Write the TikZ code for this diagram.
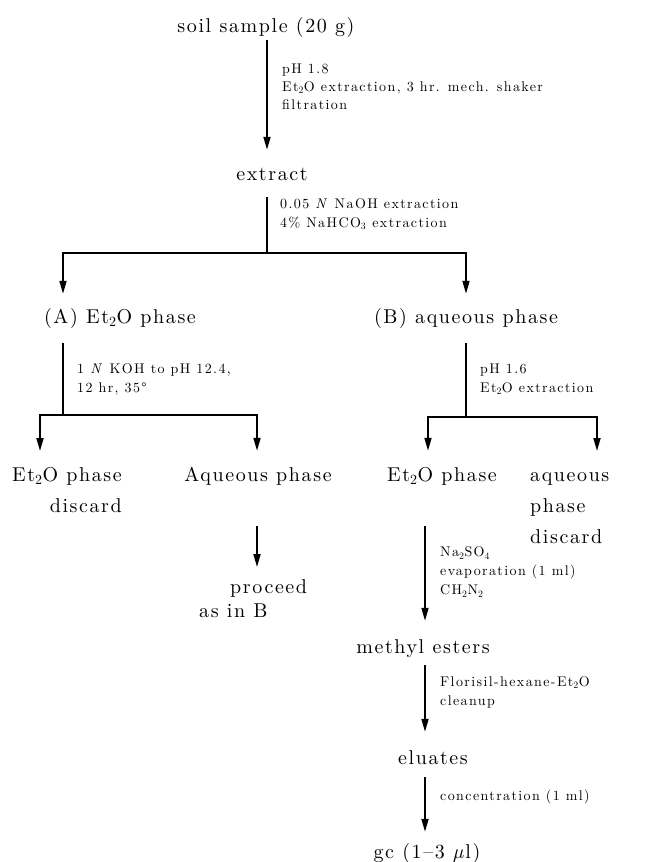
\documentclass[tikz,border=0pt]{standalone}
\usepackage{fontspec}
\setmainfont{lmroman10}[Extension=.otf, UprightFont=*-regular, ItalicFont=*-italic,
  BoldFont=*-bold, BoldItalicFont=*-bolditalic]
\usetikzlibrary{arrows.meta}

\tikzset{
  stage/.style={font=\fontsize{20}{31}\selectfont\addfontfeature{LetterSpace=8},
    inner sep=0pt, text height=14pt, text depth=4pt},
  stagelines/.style={font=\fontsize{20}{31}\selectfont\addfontfeature{LetterSpace=8},
    inner sep=0pt},
  cond/.style={font=\fontsize{14}{19}\selectfont\addfontfeature{LetterSpace=10},
    inner sep=0pt, align=left, anchor=west},
  arr/.style={line width=1.8pt, -{Triangle[length=13pt,width=7pt]}},
  feed/.style={line width=1.1pt},
}

\begin{document}
\begin{tikzpicture}[x=1pt, y=-1pt]
  \useasboundingbox (0,0) rectangle (645,862);
  % main stages (y = baseline - 5)
  \node[stage] (soil) at (266,27) {soil sample (20 g)};
  \node[stage] (extract) at (272,175) {extract};
  \node[stage] (phaseA) at (120,318) {(A) Et\textsubscript{2}O phase};
  \node[stage] (phaseB) at (466,318) {(B) aqueous phase};
  \node[stagelines, align=right, anchor=north east] (etherA) at (122,467) {Et\textsubscript{2}O phase\\discard};
  \node[stage] (aqA) at (258,476) {Aqueous phase};
  \node[stage] (etherB) at (442,476) {Et\textsubscript{2}O phase};
  \node[stagelines, align=left, anchor=north west] (aqB) at (530,472.4) {aqueous\\phase\\discard};
  \node[stagelines, align=left, anchor=north west, font=\fontsize{20}{24.5}\selectfont\addfontfeature{LetterSpace=8}]
    (proceed) at (199,579) {\hspace*{31pt}proceed\\as in B};
  \node[stage] (esters) at (423,648) {methyl esters};
  \node[stage] (eluates) at (433,759) {eluates};
  \node[stage] (gc) at (427,853) {gc (1--3 \textit{µ}l)};
  % junctions and columns
  \coordinate (jTop) at (267,253);
  \coordinate (jA) at (63,415);
  \coordinate (jB) at (466,417);
  \coordinate (colAl) at (40,0);
  \coordinate (colAr) at (257,0);
  \coordinate (colBl) at (428,0);
  \coordinate (colBr) at (597,0);
  \coordinate (colE) at (425,0);
  % connectors
  \draw[arr, shorten <=4pt, shorten >=16pt] (soil.south -| jTop) -- (extract.north -| jTop);
  \draw[feed, shorten <=13pt] (extract.south -| jTop) -- (jTop);
  \draw[arr, shorten >=15pt] (jTop) -| (phaseA.north -| jA);
  \draw[arr, shorten >=15pt] (jTop) -| (phaseB.north -| jB);
  \draw[feed, shorten <=16pt] (phaseA.south -| jA) -- (jA);
  \draw[arr, shorten >=16pt] (jA) -| (etherA.north -| colAl);
  \draw[arr, shorten >=16pt] (jA) -| (aqA.north -| colAr);
  \draw[feed, shorten <=16pt] (phaseB.south -| jB) -- (jB);
  \draw[arr, shorten >=16pt] (jB) -| (etherB.north -| colBl);
  \draw[arr, shorten >=21.4pt] (jB) -| (aqB.north -| colBr);
  \draw[arr, shorten <=41pt, shorten >=12pt] (aqA.south -| colAr) -- (proceed.north -| colAr);
  \draw[arr, shorten <=41pt, shorten >=18pt] (etherB.south -| colE) -- (esters.north -| colE);
  \draw[arr, shorten <=8pt, shorten >=18pt] (esters.south -| colE) -- (eluates.north -| colE);
  \draw[arr, shorten <=9pt, shorten >=12pt] (eluates.south -| colE) -- (gc.north -| colE);
  % conditions
  \node[cond, font=\fontsize{14}{18}\selectfont\addfontfeature{LetterSpace=10}] (l1) at (282,87)
    {pH 1.8\\Et\textsubscript{2}O extraction, 3 hr. mech. shaker\\filtration};
  \node[cond] (l2) at (280,214) {0.05 \textit{N} NaOH extraction\\4\% NaHCO\textsubscript{3} extraction};
  \node[cond] (l3) at (77,379) {1 \textit{N} KOH to pH 12.4,\\12 hr, 35°};
  \node[cond] (l4) at (480,379) {pH 1.6\\Et\textsubscript{2}O extraction};
  \node[cond] (l5) at (440,572) {Na\textsubscript{2}SO\textsubscript{4}\\evaporation (1 ml)\\CH\textsubscript{2}N\textsubscript{2}};
  \node[cond] (l6) at (440,692) {Florisil-hexane-Et\textsubscript{2}O\\cleanup};
  \node[cond] (l7) at (440,797) {concentration (1 ml)};
\end{tikzpicture}
\end{document}
